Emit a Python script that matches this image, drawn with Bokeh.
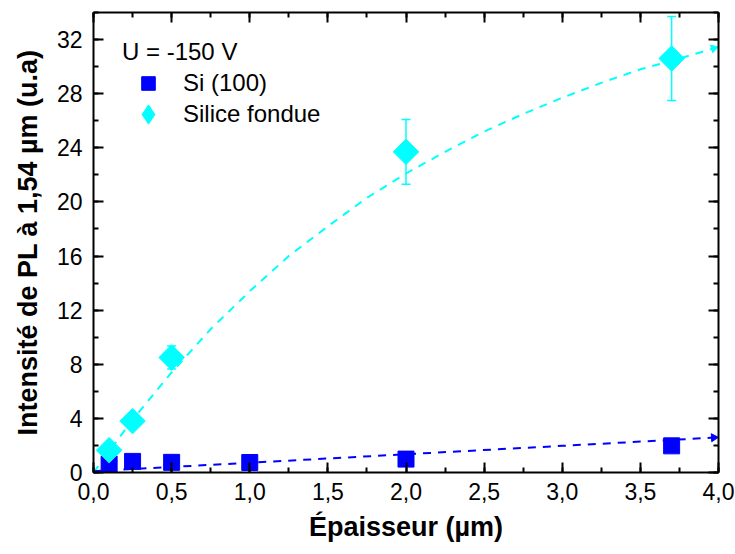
import math
from bokeh.plotting import figure
from bokeh.models import (ColumnDataSource, LinearAxis, SingleIntervalTicker, Whisker, TeeHead,
                          Legend, LegendItem, Range1d, CustomJSTickFormatter)
from bokeh.embed import file_html
from bokeh.resources import INLINE

# ---- data ----
si_x = [0.1, 0.25, 0.5, 1.0, 2.0, 3.7]
si_y = [0.62, 0.82, 0.75, 0.74, 0.99, 1.97]

sf_x = [0.1, 0.25, 0.5, 2.0, 3.7]
sf_y = [1.65, 3.8, 8.5, 23.7, 30.6]
sf_err = [0.0, 0.0, 0.85, 2.4, 3.1]

fit_sf_x = [0, 0.25, 0.5, 0.75, 1.0, 1.25, 1.5, 1.75, 2.0, 2.25, 2.5, 2.75, 3.0, 3.25, 3.5, 3.75, 3.97]
fit_sf_y = [0, 3.9, 7.4, 10.6, 13.4, 16.0, 18.2, 20.3, 22.1, 23.7, 25.2, 26.5, 27.7, 28.8, 29.8, 30.6, 31.35]

fit_si_x = [0, 1, 2, 3, 3.97]
fit_si_y = [0.1, 0.72, 1.35, 1.97, 2.58]

x_ticks = [0, 0.5, 1.0, 1.5, 2.0, 2.5, 3.0, 3.5, 4.0]
x_tick_labels = ["0,0", "0,5", "1,0", "1,5", "2,0", "2,5", "3,0", "3,5", "4,0"]

legend_title = "U = -150 V"
si_label = "Si (100)"
sf_label = "Silice fondue"
x_title = "Épaisseur (µm)"
y_title = "Intensité de PL à 1,54 µm (u.a)"

CYAN = "#00FFFF"
BLUE = "#0000FF"
FONT = "Liberation Sans"

p = figure(frame_width=625, frame_height=460, output_backend="svg", toolbar_location=None,
           x_range=Range1d(0, 4.0), y_range=Range1d(0, 34),
           min_border_left=93, min_border_right=17, min_border_top=12, min_border_bottom=82,
           x_axis_location=None, y_axis_location=None)
p.outline_line_color = None
p.xgrid.visible = False
p.ygrid.visible = False
p.background_fill_color = "white"
p.border_fill_color = "white"


def style_axis(ax, labels=True):
    ax.axis_line_width = 2
    ax.axis_line_color = "black"
    ax.major_tick_in = 10
    ax.major_tick_out = 0
    ax.minor_tick_in = 5
    ax.minor_tick_out = 0
    ax.major_tick_line_width = 2
    ax.minor_tick_line_width = 2
    ax.major_tick_line_color = "black"
    ax.minor_tick_line_color = "black"
    if labels:
        ax.major_label_text_font = FONT
        ax.major_label_text_font_size = "23px"
        ax.major_label_text_color = "black"
        ax.axis_label_text_font = FONT
        ax.axis_label_text_font_size = "27px"
        ax.axis_label_text_font_style = "bold"
        ax.axis_label_text_color = "black"
    else:
        ax.formatter = CustomJSTickFormatter(code="return ''")
        ax.major_label_standoff = 0


xt = SingleIntervalTicker(interval=0.5, num_minor_ticks=2)
yt = SingleIntervalTicker(interval=4, num_minor_ticks=2)

xb = LinearAxis(ticker=xt, axis_label=x_title)
style_axis(xb)
xb.major_label_overrides = {t: l for t, l in zip(x_ticks, x_tick_labels)}
xb.major_label_standoff = 10
xb.axis_label_standoff = 9
p.add_layout(xb, "below")

yl = LinearAxis(ticker=yt, axis_label=y_title)
style_axis(yl)
yl.major_label_standoff = 11
yl.axis_label_standoff = 11
p.add_layout(yl, "left")

xa = LinearAxis(ticker=SingleIntervalTicker(interval=0.5, num_minor_ticks=2))
style_axis(xa, labels=False)
p.add_layout(xa, "above")

yr = LinearAxis(ticker=SingleIntervalTicker(interval=4, num_minor_ticks=2))
style_axis(yr, labels=False)
p.add_layout(yr, "right")

# fit lines, each ending with a small arrow tip at its last point
p.line(fit_sf_x, fit_sf_y, line_color=CYAN, line_width=2, line_dash="8 7")
p.line(fit_si_x, fit_si_y, line_color=BLUE, line_width=2, line_dash="8 7")
tip_ang_sf = math.atan2(fit_sf_y[-1] - fit_sf_y[-2], (fit_sf_x[-1] - fit_sf_x[-2]) * 34 / 4 * 625 / 460) - math.pi / 2
tip_ang_si = math.atan2(fit_si_y[-1] - fit_si_y[-2], (fit_si_x[-1] - fit_si_x[-2]) * 34 / 4 * 625 / 460) - math.pi / 2
p.scatter([fit_sf_x[-1]], [fit_sf_y[-1]], marker="triangle", size=8, angle=tip_ang_sf,
          fill_color=CYAN, line_color=CYAN)
p.scatter([fit_si_x[-1]], [fit_si_y[-1]], marker="triangle", size=8, angle=tip_ang_si,
          fill_color=BLUE, line_color=BLUE)

# error bars
eb_x = [x for x, e in zip(sf_x, sf_err) if e > 0]
eb_up = [y + e for y, e in zip(sf_y, sf_err) if e > 0]
eb_lo = [y - e for y, e in zip(sf_y, sf_err) if e > 0]
eb_src = ColumnDataSource(dict(x=eb_x, upper=eb_up, lower=eb_lo))
wh = Whisker(source=eb_src, base="x", upper="upper", lower="lower",
             line_color=CYAN, line_width=1.5,
             upper_head=TeeHead(size=9, line_color=CYAN, line_width=1.5),
             lower_head=TeeHead(size=9, line_color=CYAN, line_width=1.5))
p.add_layout(wh)

sf_src = ColumnDataSource(dict(x=sf_x, y=sf_y))
# legend-shape glyph (a diamond); drawn first and fully covered by the rotated squares below
r_sf_leg = p.scatter("x", "y", source=sf_src, marker="diamond", size=22,
                     fill_color=CYAN, line_color=CYAN)
r_si = p.scatter(si_x, si_y, marker="square", size=16, fill_color=BLUE, line_color=BLUE)
r_sf = p.scatter("x", "y", source=sf_src, marker="square", size=18, angle=math.pi / 4,
                 fill_color=CYAN, line_color=CYAN)


def style_legend(lg, gh):
    lg.title_text_font = FONT
    lg.title_text_font_size = "24px"
    lg.title_text_font_style = "normal"
    lg.title_text_color = "black"
    lg.title_standoff = -3
    lg.label_text_font = FONT
    lg.label_text_font_size = "24px"
    lg.label_text_color = "black"
    lg.border_line_color = None
    lg.background_fill_alpha = 0
    lg.margin = 0
    lg.padding = 0
    lg.glyph_width = 52
    lg.glyph_height = gh
    lg.label_height = gh
    lg.label_standoff = 9
    lg.spacing = 0


leg_a = Legend(items=[LegendItem(label=si_label, renderers=[r_si])],
               location=(29, 372), title=legend_title)
style_legend(leg_a, 34)
p.add_layout(leg_a)

leg_b = Legend(items=[LegendItem(label=sf_label, renderers=[r_sf_leg])],
               location=(29, 334))
style_legend(leg_b, 48)
p.add_layout(leg_b)

open("out.html", "w").write(file_html(p, INLINE))
